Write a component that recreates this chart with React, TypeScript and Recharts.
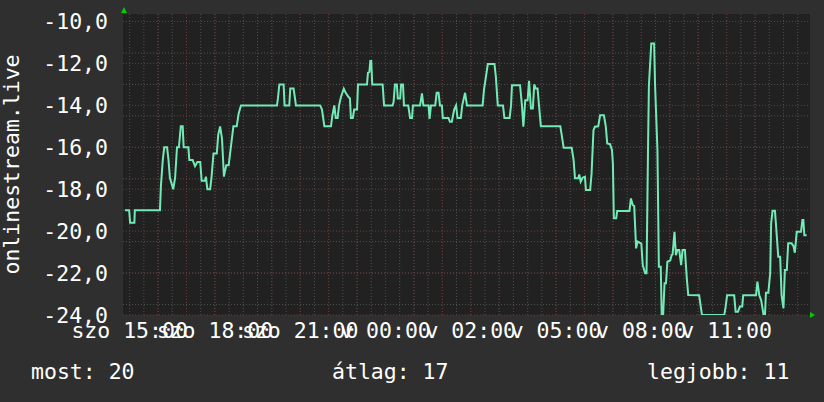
import React from 'react';
import { LineChart, Line, XAxis, YAxis, CartesianGrid, ReferenceDot } from 'recharts';

// minutes since Saturday 00:00 (continuous clock)
const times = [
  890, 899, 901, 910, 911, 964, 966, 970, 973, 979, 982, 985, 992, 996, 1000, 1004, 1008, 1012, 1014, 1024,
  1026, 1033, 1038, 1043, 1049, 1052, 1059, 1061, 1064, 1070, 1073, 1077, 1084, 1087, 1091, 1095, 1099, 1104, 1109, 1112,
  1119, 1126, 1130, 1135, 1211, 1213, 1216, 1225, 1227, 1237, 1239, 1246, 1249, 1251, 1302, 1306, 1311, 1325, 1328, 1332,
  1335, 1339, 1342, 1346, 1352, 1356, 1362, 1365, 1367, 1371, 1374, 1380, 1382, 1401, 1403, 1406, 1408, 1410, 1412, 1434,
  1437, 1455, 1457, 1460, 1464, 1466, 1471, 1473, 1477, 1479, 1488, 1492, 1496, 1498, 1513, 1517, 1520, 1531, 1533, 1536,
  1545, 1548, 1552, 1555, 1559, 1561, 1573, 1576, 1580, 1585, 1589, 1592, 1599, 1602, 1608, 1612, 1645, 1648, 1652, 1656,
  1670, 1673, 1677, 1688, 1691, 1702, 1705, 1707, 1724, 1728, 1731, 1735, 1740, 1743, 1747, 1751, 1754, 1757, 1761, 1764,
  1768, 1809, 1812, 1816, 1833, 1837, 1840, 1847, 1849, 1852, 1856, 1861, 1863, 1872, 1875, 1879, 1882, 1889, 1893, 1901,
  1905, 1908, 1914, 1918, 1920, 1922, 1927, 1929, 1955, 1958, 1962, 1965, 1969, 1972, 1980, 1983, 1988, 1991, 1994, 1996,
  2001, 2007, 2009, 2014, 2017, 2021, 2023, 2026, 2029, 2032, 2035, 2041, 2044, 2046, 2050, 2053, 2056, 2060, 2064, 2067,
  2072, 2076, 2079, 2102, 2108, 2155, 2158, 2161, 2176, 2179, 2184, 2188, 2193, 2195, 2222, 2225, 2229, 2233, 2238, 2241,
  2243, 2248, 2252, 2254, 2257, 2262, 2264, 2269, 2273, 2276, 2280, 2283, 2287, 2290, 2297, 2301, 2304, 2308, 2317, 2320,
  2322, 2324, 2329,
];

const values = [
  -19, -19, -19.6, -19.6, -19, -19, -17.85, -16.6, -16, -16, -16.6, -17.45, -18, -17.45, -16, -16, -15, -15, -16, -16,
  -16.6, -16.6, -16.9, -16.7, -16.7, -17.6, -17.6, -17.4, -18, -18, -17.4, -16.3, -16.3, -15.4, -15, -15.6, -17.4, -16.85, -16.85, -16.3,
  -15, -15, -14.4, -14, -14, -13.67, -13, -13, -14, -14, -13.2, -13.2, -13.67, -14, -14, -14.2, -15, -15, -14.47, -14,
  -14.6, -14.6, -14, -13.6, -13.2, -13.4, -13.6, -13.67, -14.6, -14.6, -14.2, -14.2, -13, -13, -12.45, -12.4, -11.88, -11.88, -13, -13,
  -14, -14, -13.85, -13, -13, -13.67, -13.67, -13, -13, -14, -14, -14.6, -14.6, -14, -14, -13.43, -14, -14, -14.65, -14,
  -14, -13.4, -13.4, -14, -14, -14.6, -14.6, -14.78, -14.78, -14.2, -14, -14.6, -14.6, -14, -13.4, -14, -14, -13.24, -12.64, -12.03,
  -12.03, -12.64, -14, -14, -14.6, -14.6, -14, -13.04, -13.04, -14, -15.02, -13.75, -13.75, -12.83, -14.15, -14.15, -13, -13.2, -13.2, -14,
  -15, -15, -15.42, -16.02, -16.02, -16.6, -17.48, -17.48, -17.3, -17.64, -17.45, -17.4, -18.04, -18.04, -17.25, -15.18, -15.02, -15, -14.47, -14.47,
  -15, -15.82, -15.85, -16.13, -16.77, -19.39, -19.39, -19.04, -19.04, -18.44, -18.76, -18.8, -20.82, -20.5, -20.6, -21.62, -22.01, -22.01, -16.29, -13.04,
  -11.05, -11.05, -13.04, -16.13, -21.7, -21.7, -24, -24, -22.49, -22.49, -21.46, -21.4, -21.15, -21.1, -20.03, -21.15, -20.9, -20.9, -21.62, -20.9,
  -20.9, -22.25, -23.05, -23.06, -24, -24, -23.6, -23.06, -23.06, -23.84, -23.84, -23.6, -23.6, -23.06, -23.06, -22.41, -23.06, -23.3, -24, -24,
  -22.94, -22.94, -22.01, -19.63, -19.03, -19.03, -19.63, -21.22, -21.22, -23.05, -23.68, -21.85, -21.85, -20.58, -20.58, -20.7, -21.03, -20.03, -20.03, -19.47,
  -19.47, -20.2, -20.2,
];

const xTicks = [900, 1080, 1260, 1440, 1620, 1800, 1980, 2160];
const xTickLabels = ['szo 15:00', 'szo 18:00', 'szo 21:00', 'v 00:00', 'v 02:00', 'v 05:00', 'v 08:00', 'v 11:00'];
const yTicks = [-24, -22, -20, -18, -16, -14, -12, -10];

const seriesName = 'onlinestream.live';
const summaryLabels = ['most: 20', 'átlag: 17', 'legjobb: 11'];

const X_MIN = 886;
const X_MAX = 2336;
const Y_MIN = -24;
const Y_MAX = -9.64;

const data = times.map((t, i) => ({ t, v: values[i] }));

const minorY: number[] = [];
for (let v = -24; v <= -10; v += 0.5) minorY.push(v);
const minorX: number[] = [];
for (let t = 900; t <= X_MAX; t += 30) minorX.push(t);
const majorX: number[] = [];
for (let t = 900; t <= X_MAX; t += 60) majorX.push(t);

const FONT = '"DejaVu Sans Mono", monospace';
const FS = 21.5;

const fmtX = (t: number) => {
  const i = xTicks.indexOf(t);
  return i >= 0 ? xTickLabels[i] : '';
};
const fmtY = (v: number) => v.toFixed(1).replace('.', ',');

const UpArrow = (props: any) => {
  const { cx, cy } = props;
  return <path d={`M${cx - 2},${cy - 1} L${cx + 4},${cy - 1} L${cx + 1},${cy - 7} Z`} fill="#00cc00" />;
};
const RightArrow = (props: any) => {
  const { cx, cy } = props;
  return <path d={`M${cx},${cy - 3} L${cx},${cy + 3} L${cx + 5},${cy} Z`} fill="#00cc00" />;
};

const App = () => {
  return (
    <div style={{ position: 'absolute', left: 0, top: 0, width: 824, height: 402, background: '#2f2f2f' }}>
      <LineChart width={824} height={402} data={data} margin={{ top: 14, right: 14, bottom: 57, left: 0 }}>
        <CartesianGrid
          fill="#212121"
          stroke="#505050"
          strokeDasharray="1 2"
          horizontalValues={minorY}
          verticalValues={minorX}
        />
        <CartesianGrid
          stroke="#703636"
          strokeDasharray="1 2"
          horizontalValues={yTicks}
          verticalValues={majorX}
        />
        <XAxis
          dataKey="t"
          type="number"
          domain={[X_MIN, X_MAX]}
          ticks={xTicks}
          interval={0}
          allowDataOverflow
          tickFormatter={fmtX}
          axisLine={false}
          tickLine={false}
          tickSize={0}
          tickMargin={8}
          height={30}
          tick={{ fill: '#ffffff', fontSize: FS, fontFamily: FONT }}
        />
        <YAxis
          type="number"
          domain={[Y_MIN, Y_MAX]}
          ticks={yTicks}
          allowDataOverflow
          tickFormatter={fmtY}
          axisLine={false}
          tickLine={false}
          tickSize={0}
          tickMargin={15}
          width={123}
          tick={{ fill: '#ffffff', fontSize: FS, fontFamily: FONT }}
        />
        <Line
          type="linear"
          dataKey="v"
          stroke="#72eab6"
          strokeWidth={2}
          dot={false}
          isAnimationActive={false}
        />
        <ReferenceDot x={X_MIN} y={Y_MAX} ifOverflow="visible" shape={UpArrow} />
        <ReferenceDot x={X_MAX} y={Y_MIN} ifOverflow="visible" shape={RightArrow} />
      </LineChart>
      <svg
        width={824}
        height={402}
        style={{ position: 'absolute', left: 0, top: 0, pointerEvents: 'none' }}
        fontFamily={FONT}
        fontSize={FS}
        fill="#ffffff"
      >
        <text x={19} y={164.5} textAnchor="middle" transform="rotate(-90 19 164.5)">
          {seriesName}
        </text>
        <text x={31} y={379}>{summaryLabels[0]}</text>
        <text x={332} y={379}>{summaryLabels[1]}</text>
        <text x={647} y={379}>{summaryLabels[2]}</text>
      </svg>
    </div>
  );
};

export default App;
